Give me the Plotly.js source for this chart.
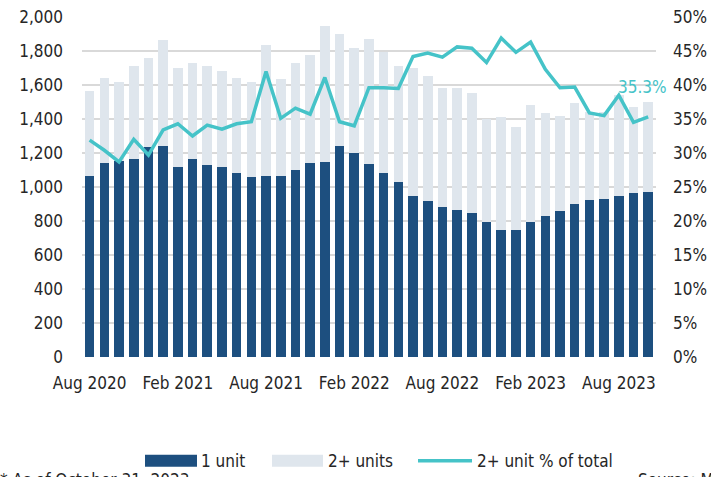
<!DOCTYPE html>
<html>
<head>
<meta charset="utf-8">
<script src="https://cdn.plot.ly/plotly-3.0.1.min.js"></script>
<style>
html,body{margin:0;padding:0;background:#fff;}
#chart{width:711px;height:477px;}
</style>
</head>
<body>
<div id="chart"></div>
<script>
const months = ["Aug 2020","Sep 2020","Oct 2020","Nov 2020","Dec 2020","Jan 2021","Feb 2021","Mar 2021","Apr 2021","May 2021","Jun 2021","Jul 2021","Aug 2021","Sep 2021","Oct 2021","Nov 2021","Dec 2021","Jan 2022","Feb 2022","Mar 2022","Apr 2022","May 2022","Jun 2022","Jul 2022","Aug 2022","Sep 2022","Oct 2022","Nov 2022","Dec 2022","Jan 2023","Feb 2023","Mar 2023","Apr 2023","May 2023","Jun 2023","Jul 2023","Aug 2023","Sep 2023","Oct 2023"];
const oneUnit = [1066,1141,1153,1165,1237,1243,1118,1166,1129,1118,1080,1057,1065,1062,1098,1139,1149,1243,1198,1135,1084,1032,948,919,884,865,849,796,749,749,796,829,857,902,923,929,949,965,971];
const twoPlusUnits = [496,502,466,547,522,622,580,565,585,562,563,561,772,575,629,635,800,655,617,738,710,677,752,736,700,719,706,602,660,606,686,608,558,592,519,511,594,506,527];
const twoPlusPct = [31.9,30.4,28.7,32.0,29.7,33.4,34.3,32.5,34.1,33.5,34.3,34.6,42.0,35.1,36.6,35.7,41.1,34.6,34.0,39.6,39.6,39.5,44.2,44.7,44.1,45.6,45.4,43.3,46.9,44.8,46.3,42.3,39.6,39.7,35.9,35.5,38.5,34.5,35.3];
const tickMonths = ["Aug 2020","Feb 2021","Aug 2021","Feb 2022","Aug 2022","Feb 2023","Aug 2023"];
const seriesNames = ["1 unit","2+ units","2+ unit % of total"];
const lastLabel = "35.3%";

const FONT = '"DejaVu Sans Condensed", "Liberation Sans Narrow", "Arial Narrow", sans-serif';
const DARK = '#1d4f7f', LIGHT = '#dfe6ed', TEAL = '#45c3c8', TXT = '#262626';
const FS = 17;

const traces = [
  {type:'bar', x:months, y:oneUnit, name:seriesNames[0], marker:{color:DARK}, hoverinfo:'x+y'},
  {type:'bar', x:months, y:twoPlusUnits, name:seriesNames[1], marker:{color:LIGHT}, hoverinfo:'x+y'},
  {type:'scatter', mode:'lines', x:months, y:twoPlusPct, yaxis:'y2', name:seriesNames[2], line:{color:TEAL, width:3.5}}
];

// paper coordinate helpers (plot area: x 82..656, y 17.3..357.3 px)
const px = v => (v - 82) / 574;
const py = v => (357.3 - v) / 340;

const shapes = [
  {type:'rect', xref:'paper', yref:'paper', x0:px(145), x1:px(197), y0:py(467), y1:py(455), fillcolor:DARK, line:{width:0}},
  {type:'rect', xref:'paper', yref:'paper', x0:px(272), x1:px(323), y0:py(467), y1:py(455), fillcolor:LIGHT, line:{width:0}},
  {type:'line', xref:'paper', yref:'paper', x0:px(418), x1:px(472), y0:py(461), y1:py(461), line:{color:TEAL, width:3.5}}
];

const annotations = [
  {xref:'paper', yref:'paper', x:px(199), y:py(461), xanchor:'left', yanchor:'middle', text:seriesNames[0], showarrow:false, font:{family:FONT,size:FS,color:TXT}},
  {xref:'paper', yref:'paper', x:px(326), y:py(461), xanchor:'left', yanchor:'middle', text:seriesNames[1], showarrow:false, font:{family:FONT,size:FS,color:TXT}},
  {xref:'paper', yref:'paper', x:px(475), y:py(461), xanchor:'left', yanchor:'middle', text:seriesNames[2], showarrow:false, font:{family:FONT,size:FS,color:TXT}},
  {x:months[months.length-1], y:twoPlusPct[twoPlusPct.length-1], xref:'x', yref:'y2', text:lastLabel, showarrow:false, yshift:30, xshift:21, xanchor:'right', font:{family:FONT,size:FS,color:TEAL}},
  {xref:'paper', yref:'paper', x:px(-2), y:py(468), xanchor:'left', yanchor:'top', text:'* As of October 31, 2023', showarrow:false, font:{family:FONT,size:FS,color:TXT}},
  {xref:'paper', yref:'paper', x:px(636), y:py(468), xanchor:'left', yanchor:'top', text:'Source: Moody\u2019s Analytics', showarrow:false, font:{family:FONT,size:FS,color:TXT}}
];

const layout = {
  width:711, height:477,
  margin:{l:82, r:55, t:17.3, b:119.7},
  paper_bgcolor:'#fff', plot_bgcolor:'#fff',
  barmode:'stack', bargap:0.35,
  showlegend:false,
  font:{family:FONT, size:FS, color:TXT},
  xaxis:{type:'category', range:[-0.52, 38.53], tickmode:'array', tickvals:tickMonths, ticktext:tickMonths,
         showgrid:false, zeroline:false, showline:false, ticks:'', ticklabelstandoff:14, tickfont:{family:FONT,size:FS,color:TXT}},
  yaxis:{range:[0,2000], dtick:200, tickformat:',d', showgrid:true, gridcolor:'#d9d9d9', gridwidth:1.5, zeroline:false,
         showline:false, ticks:'', ticklabelstandoff:18, tickfont:{family:FONT,size:FS,color:TXT}},
  yaxis2:{overlaying:'y', side:'right', range:[0,50], dtick:5, ticksuffix:'%', showgrid:false, zeroline:false,
          showline:false, ticks:'', ticklabelstandoff:16, tickfont:{family:FONT,size:FS,color:TXT}},
  shapes:shapes, annotations:annotations
};

Plotly.newPlot('chart', traces, layout, {displayModeBar:false, staticPlot:true});
</script>
</body>
</html>
